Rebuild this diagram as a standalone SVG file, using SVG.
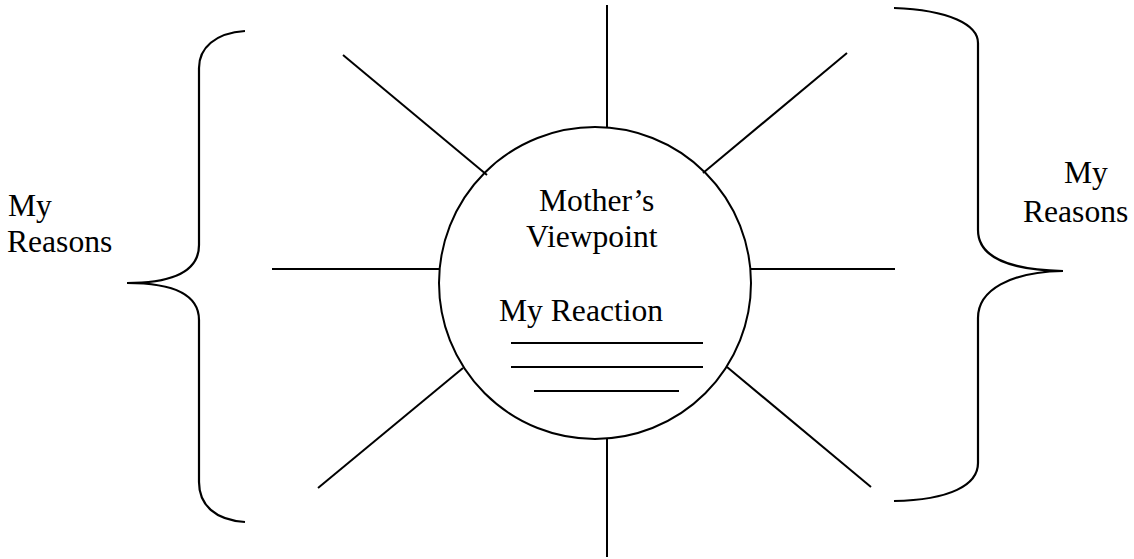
<svg xmlns="http://www.w3.org/2000/svg" width="1134" height="559" viewBox="0 0 1134 559">
<style>
.ln{stroke:#000;stroke-width:2;fill:none;stroke-linecap:butt}
.br{stroke:#000;stroke-width:2.2;fill:none}
.t{font-family:"Liberation Serif","Times New Roman",serif;font-size:31.6px;fill:#000}
</style>
<rect width="1134" height="559" fill="#fff"/>
<g id="connectors">
<line class="ln" x1="607" y1="5" x2="607" y2="127"/>
<line class="ln" x1="607" y1="439" x2="607" y2="557"/>
<line class="ln" x1="272" y1="269" x2="439" y2="269"/>
<line class="ln" x1="751" y1="269" x2="895" y2="269"/>
<line class="ln" x1="343" y1="55" x2="487" y2="175"/>
<line class="ln" x1="847" y1="53" x2="703" y2="173"/>
<line class="ln" x1="463" y1="368" x2="318" y2="488"/>
<line class="ln" x1="727" y1="367" x2="871" y2="487"/>
</g>
<g id="center">
<circle cx="595" cy="283" r="156" fill="none" stroke="#000" stroke-width="2"/>
<text class="t" x="539" y="211">Mother’s</text>
<text class="t" x="526" y="247">Viewpoint</text>
<text class="t" x="499" y="321">My Reaction</text>
<line class="ln" x1="511" y1="343" x2="703" y2="343"/>
<line class="ln" x1="511" y1="367" x2="703" y2="367"/>
<line class="ln" x1="534" y1="391" x2="679" y2="391"/>
</g>
<g id="left-reasons">
<path class="br" d="M245 31 C215 33 199 48 199 68 L199 245 C199 270 175 283 127 283 C175 283 199 295 199 320 L199 482 C199 505 215 520 245 522"/>
<text class="t" x="8" y="216">My</text>
<text class="t" x="7" y="252">Reasons</text>
</g>
<g id="right-reasons">
<path class="br" d="M894 8 C950 10 978 25 978 43 L978 230 C978 255 1005 270 1063 271 C1010 272 978 290 978 318 L978 463 C978 485 950 500 894 501"/>
<text class="t" x="1064" y="183">My</text>
<text class="t" x="1023" y="222">Reasons</text>
</g>
</svg>
